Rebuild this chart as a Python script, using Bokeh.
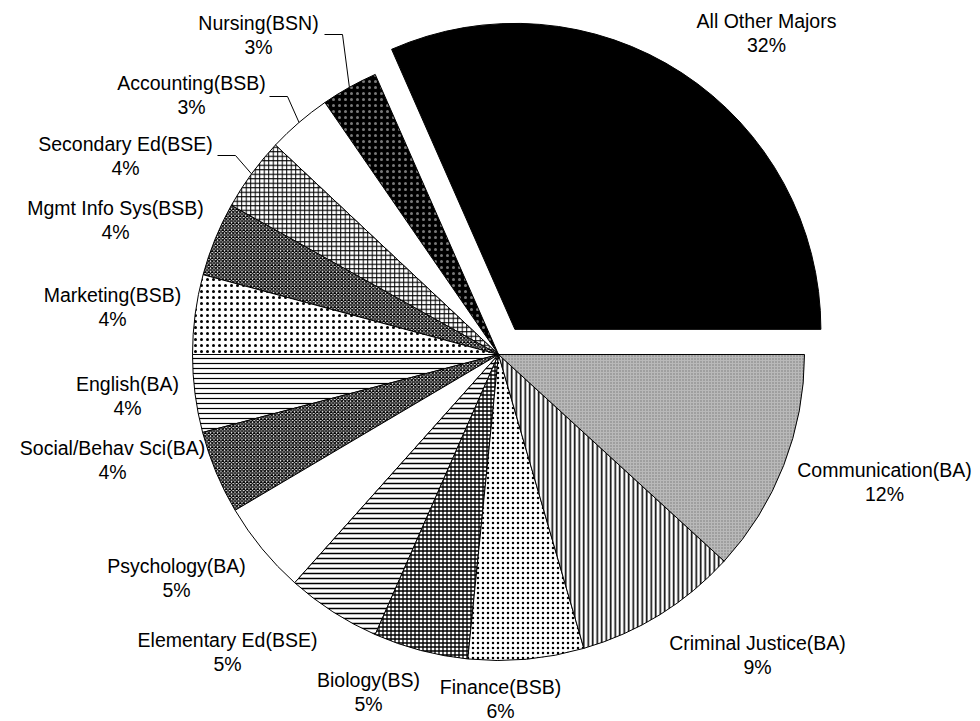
import math
from bokeh.plotting import figure
from bokeh.models import ColumnDataSource, Range1d
from bokeh.core.properties import value
from bokeh.embed import file_html
from bokeh.resources import INLINE

# ---- data (counter-clockwise from 3 o'clock) ----
majors = ["All Other Majors", "Nursing(BSN)", "Accounting(BSB)", "Secondary Ed(BSE)",
          "Mgmt Info Sys(BSB)", "Marketing(BSB)", "English(BA)", "Social/Behav Sci(BA)",
          "Psychology(BA)", "Elementary Ed(BSE)", "Biology(BS)", "Finance(BSB)",
          "Criminal Justice(BA)", "Communication(BA)"]
shares = [31.6, 3.0, 3.4, 3.9, 3.9, 4.2, 4.1, 4.4, 4.9, 5.0, 5.0, 6.1, 8.7, 11.8]

# ---- styles ----
fills = ["black", "black", "white", "white", "white", "white", "white", "white",
         "white", "white", "white", "white", "white", "#b9b9b9"]
hatches = [" ", ".", " ", "+", "x", ".", "-", "x", " ", "-", "+", ".", "|", "."]
hatch_colors = ["black", "#dddddd", "black", "black", "black", "black", "black", "black",
                "black", "black", "black", "black", "black", "#777777"]
hatch_alphas = [1, 0.55, 1, 1, 1, 1, 1, 1, 1, 1, 1, 1, 1, 1]
hatch_scales = [8, 6, 8, 4.5, 3.5, 6, 5, 3.5, 8, 5, 4, 5, 4.5, 3]
hatch_weights = [1, 0.5, 1, 1, 1.3, 1, 1.2, 1.3, 1, 1.5, 1.3, 1, 1.6, 0.8]
explode = [30, 0, 0, 0, 0, 0, 0, 0, 0, 0, 0, 0, 0, 0]

# layout: label centre (page px) of first line
label_pos = [(766, 20), (258, 22), (191, 82), (125, 143), (115, 207), (112, 294),
             (127, 383), (112, 447), (176, 565), (227, 639), (368, 679), (500, 686),
             (757, 642), (884, 469)]
line_gap = 24.5
leaders = {1: (324, 34), 2: (269, 96), 3: (217, 155)}

CX, CY, R = 498, -354, 306

total = sum(shares)
starts, ends, xs, ys, mids = [], [], [], [], []
acc = 0.0
for s, e in zip(shares, explode):
    a0 = acc / total * 2 * math.pi
    acc += s
    a1 = acc / total * 2 * math.pi
    m = (a0 + a1) / 2
    starts.append(a0)
    ends.append(a1)
    mids.append(m)
    xs.append(CX + e * math.cos(m))
    ys.append(CY + e * math.sin(m))

src = ColumnDataSource(dict(x=xs, y=ys, start=starts, end=ends, fill=fills,
                            hatch=hatches, hcol=hatch_colors, halpha=hatch_alphas,
                            hscale=hatch_scales, hweight=hatch_weights))

p = figure(width=980, height=721, x_range=Range1d(0, 980), y_range=Range1d(-721, 0),
           output_backend="svg", toolbar_location=None, min_border=0,
           x_axis_location=None, y_axis_location=None)
p.grid.visible = False
p.outline_line_color = None

p.wedge(x="x", y="y", radius=R, start_angle="start", end_angle="end", source=src,
        fill_color="fill", line_color="black", line_width=1,
        hatch_pattern="hatch", hatch_color="hcol", hatch_alpha="halpha",
        hatch_scale="hscale", hatch_weight="hweight")

# leader lines
lx, ly = [], []
for i, (sx, sy) in leaders.items():
    ex = CX + R * math.cos(mids[i])
    ey = CY + R * math.sin(mids[i])
    lx.append([sx, sx + 18, ex])
    ly.append([-sy, -sy, ey])
p.multi_line(xs=lx, ys=ly, line_color="black", line_width=1)

names_x = [q[0] for q in label_pos]
names_y = [-q[1] for q in label_pos]
pct_y = [-(q[1] + line_gap) for q in label_pos]
pct_txt = [f"{round(s / total * 100)}%" for s in shares]

font = value("Liberation Sans")
p.text(x=names_x, y=names_y, text=majors, text_align="center", text_baseline="middle",
       text_font=font, text_font_size="19.5px", text_color="black")
p.text(x=names_x, y=pct_y, text=pct_txt, text_align="center", text_baseline="middle",
       text_font=font, text_font_size="19.5px", text_color="black")

open("out.html", "w").write(file_html(p, INLINE))
